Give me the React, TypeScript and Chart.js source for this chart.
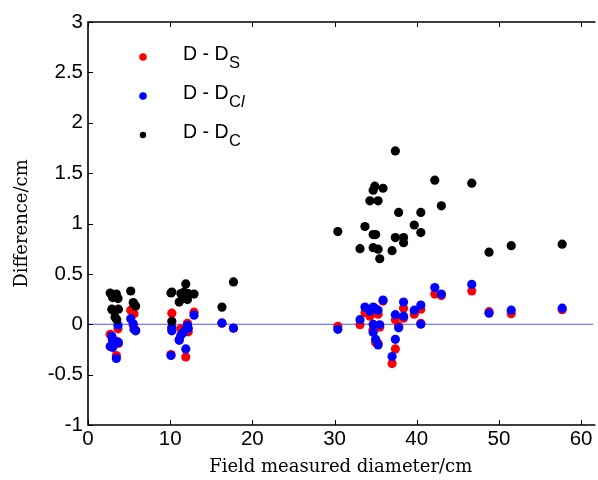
import React, { useEffect, useRef } from "react";
import { Chart, registerables } from "chart.js";

Chart.register(...registerables);

// Field measured diameter (cm) of each tree
const diameters = [
  2.7, 2.9, 3.0, 3.0, 3.3, 3.45, 3.5, 3.65, 3.7,
  5.2, 5.5, 5.6, 5.8,
  10.2, 10.2, 10.1, 11.1, 11.3, 11.5, 11.7, 11.9, 12.1, 12.2, 12.9,
  16.3, 17.7,
  30.4, 33.1, 33.7, 34.3, 34.7, 34.7, 34.7, 34.9, 35.0, 35.3,
  35.3, 35.5, 35.9, 37.0, 37.4, 37.4, 37.8, 38.4, 38.4, 39.7,
  40.5, 40.5, 42.2, 43.0, 46.7, 48.8, 51.5, 57.7,
];

// D - D_S
const diffS = [
  -0.10, -0.13, -0.20, -0.17, -0.19, -0.31, -0.17, -0.045, -0.19,
  0.14, -0.005, 0.105, -0.06,
  0.11, -0.05, -0.30, -0.15, -0.045, -0.08, -0.06, -0.325, 0.01, -0.075, 0.12,
  0.01, -0.04,
  -0.02, -0.005, 0.115, 0.08, 0.12, -0.055, -0.06, 0.13, -0.18, 0.10,
  -0.19, -0.03, 0.23, -0.39, 0.045, -0.245, -0.02, 0.16, 0.06, 0.10,
  0.15, 0.01, 0.30, 0.285, 0.33, 0.125, 0.105, 0.145,
];

// D - D_Cl
const diffCl = [
  -0.22, -0.12, -0.23, -0.16, -0.175, -0.34, -0.18, -0.01, -0.18,
  0.055, 0.005, -0.05, -0.065,
  -0.03, -0.065, -0.31, -0.16, -0.11, -0.09, -0.07, -0.245, -0.01, -0.04, 0.09,
  0.013, -0.037,
  -0.05, 0.045, 0.17, 0.13, 0.17, 0.0, -0.08, 0.16, -0.15, 0.14,
  -0.205, -0.005, 0.24, -0.32, 0.095, -0.15, -0.035, 0.22, 0.08, 0.14,
  0.19, 0.0, 0.365, 0.30, 0.395, 0.11, 0.14, 0.16,
];

// D - D_C
const diffC = [
  0.31, 0.15, 0.265, 0.14, 0.07, 0.30, 0.045, 0.255, 0.15,
  0.33, 0.215, 0.20, 0.18,
  0.32, 0.03, 0.31, 0.22, 0.305, 0.26, 0.32, 0.40, 0.245, 0.305, 0.30,
  0.17, 0.42,
  0.92, 0.75, 0.97, 1.225, 1.33, 0.89, 0.76, 1.37, 0.89, 1.225,
  0.745, 0.65, 1.35, 0.73, 1.72, 0.86, 1.11, 0.86, 0.81, 0.985,
  1.11, 0.91, 1.43, 1.175, 1.40, 0.715, 0.78, 0.795,
];

const xTicks = [0, 10, 20, 30, 40, 50, 60];
const yTicks = [-1, -0.5, 0, 0.5, 1, 1.5, 2, 2.5, 3];
const xRange = [0, 61.5];
const yRange = [-1, 3];

const legendMain = ["D - D", "D - D", "D - D"];
const legendSub = ["S", "Cl", "C"];
const legendColors = ["#ff0000", "#0000ff", "#000000"];
const legendDotRadius = [3.8, 3.8, 3.2];

const xTitle = "Field measured diameter/cm";
const yTitle = "Difference/cm";

const TICK_FONT = "Liberation Sans";
const TITLE_FONT = "DejaVu Serif";

function pts(ys: number[]) {
  return diameters.map((x, i) => ({ x, y: ys[i] }));
}

const framePlugin = {
  id: "frame",
  afterDraw(chart: any) {
    const { ctx, chartArea, scales } = chart;
    const { left, top, right, bottom } = chartArea;
    const xs = scales.x;
    const ys = scales.y;
    ctx.save();
    ctx.strokeStyle = "#000";
    ctx.lineWidth = 1.6;
    ctx.beginPath();
    ctx.moveTo(right + 2, top);
    ctx.lineTo(left, top);
    ctx.lineTo(left, bottom);
    ctx.lineTo(right + 2, bottom);
    ctx.stroke();
    ctx.lineWidth = 1;
    ctx.beginPath();
    xTicks.forEach((v) => {
      const px = Math.round(xs.getPixelForValue(v)) + 0.5;
      ctx.moveTo(px, bottom);
      ctx.lineTo(px, bottom - 5);
      ctx.moveTo(px, top);
      ctx.lineTo(px, top + 5);
    });
    yTicks.forEach((v) => {
      const py = Math.round(ys.getPixelForValue(v)) + 0.5;
      ctx.moveTo(left, py);
      ctx.lineTo(left + 5, py);
    });
    ctx.stroke();

    // legend
    const dotX = 143;
    const textX = 183;
    legendMain.forEach((main, i) => {
      const cy = 57 + 39 * i;
      ctx.fillStyle = legendColors[i];
      ctx.beginPath();
      ctx.arc(dotX, cy, legendDotRadius[i], 0, Math.PI * 2);
      ctx.fill();
      ctx.fillStyle = "#000";
      ctx.textBaseline = "alphabetic";
      ctx.textAlign = "left";
      ctx.font = `19.5px "${TICK_FONT}"`;
      ctx.fillText(main, textX, cy + 3);
      let sx = textX + ctx.measureText(main).width + 0.5;
      const sub = legendSub[i];
      for (const ch of sub) {
        const italic = ch === "l";
        ctx.font = `${italic ? "italic " : ""}16.5px "${TICK_FONT}"`;
        ctx.fillText(ch, sx, cy + 11);
        sx += ctx.measureText(ch).width;
      }
    });
    ctx.restore();
  },
};

export default function App() {
  const canvasRef = useRef<HTMLCanvasElement | null>(null);

  useEffect(() => {
    const canvas = canvasRef.current;
    if (!canvas) return;
    const chart = new Chart(canvas, {
      type: "scatter",
      data: {
        datasets: [
          {
            label: "zero",
            data: [
              { x: xRange[0], y: 0 },
              { x: xRange[1], y: 0 },
            ],
            showLine: true,
            borderColor: "#5050ff",
            borderWidth: 1.2,
            pointRadius: 0,
            order: 10,
          },
          {
            label: "D - DS",
            data: pts(diffS),
            backgroundColor: "#ff0000",
            borderWidth: 0,
            pointRadius: 4.6,
            order: 3,
          },
          {
            label: "D - DCl",
            data: pts(diffCl),
            backgroundColor: "#0000ff",
            borderWidth: 0,
            pointRadius: 4.6,
            order: 2,
          },
          {
            label: "D - DC",
            data: pts(diffC),
            backgroundColor: "#000000",
            borderWidth: 0,
            pointRadius: 4.6,
            order: 1,
          },
        ],
      },
      options: {
        animation: false,
        responsive: false,
        devicePixelRatio: 1,
        events: [],
        layout: { padding: { top: 22, right: 0, left: 0, bottom: 0 } },
        plugins: {
          legend: { display: false },
          tooltip: { enabled: false },
        },
        scales: {
          x: {
            type: "linear",
            min: xRange[0],
            max: xRange[1],
            afterBuildTicks: (scale: any) => {
              scale.ticks = xTicks.map((v) => ({ value: v }));
            },
            afterFit: (scale: any) => {
              scale.height = 55;
            },
            grid: { display: false, drawTicks: false },
            border: { display: false },
            ticks: {
              padding: 2,
              color: "#000",
              font: { family: TICK_FONT, size: 20.5 },
              maxRotation: 0,
              callback: (v: any) => `${v}`,
            },
            title: {
              display: true,
              text: xTitle,
              color: "#000",
              font: { family: TITLE_FONT, size: 18 },
              padding: { top: 0, bottom: 2 },
            },
          },
          y: {
            type: "linear",
            min: yRange[0],
            max: yRange[1],
            afterBuildTicks: (scale: any) => {
              scale.ticks = yTicks.map((v) => ({ value: v }));
            },
            afterFit: (scale: any) => {
              scale.width = 88;
            },
            grid: { display: false, drawTicks: false },
            border: { display: false },
            ticks: {
              padding: 5,
              color: "#000",
              font: { family: TICK_FONT, size: 20.5 },
              callback: (v: any) => `${v}`,
            },
            title: {
              display: true,
              text: yTitle,
              color: "#000",
              font: { family: TITLE_FONT, size: 18 },
              padding: { top: 12, bottom: 0 },
            },
          },
        },
      },
      plugins: [framePlugin],
    } as any);
    return () => chart.destroy();
  }, []);

  return (
    <div
      style={{
        position: "fixed",
        left: 0,
        top: 0,
        width: 598,
        height: 480,
        background: "#fff",
        overflow: "hidden",
      }}
    >
      <canvas ref={canvasRef} width={598} height={480} style={{ display: "block" }} />
    </div>
  );
}
